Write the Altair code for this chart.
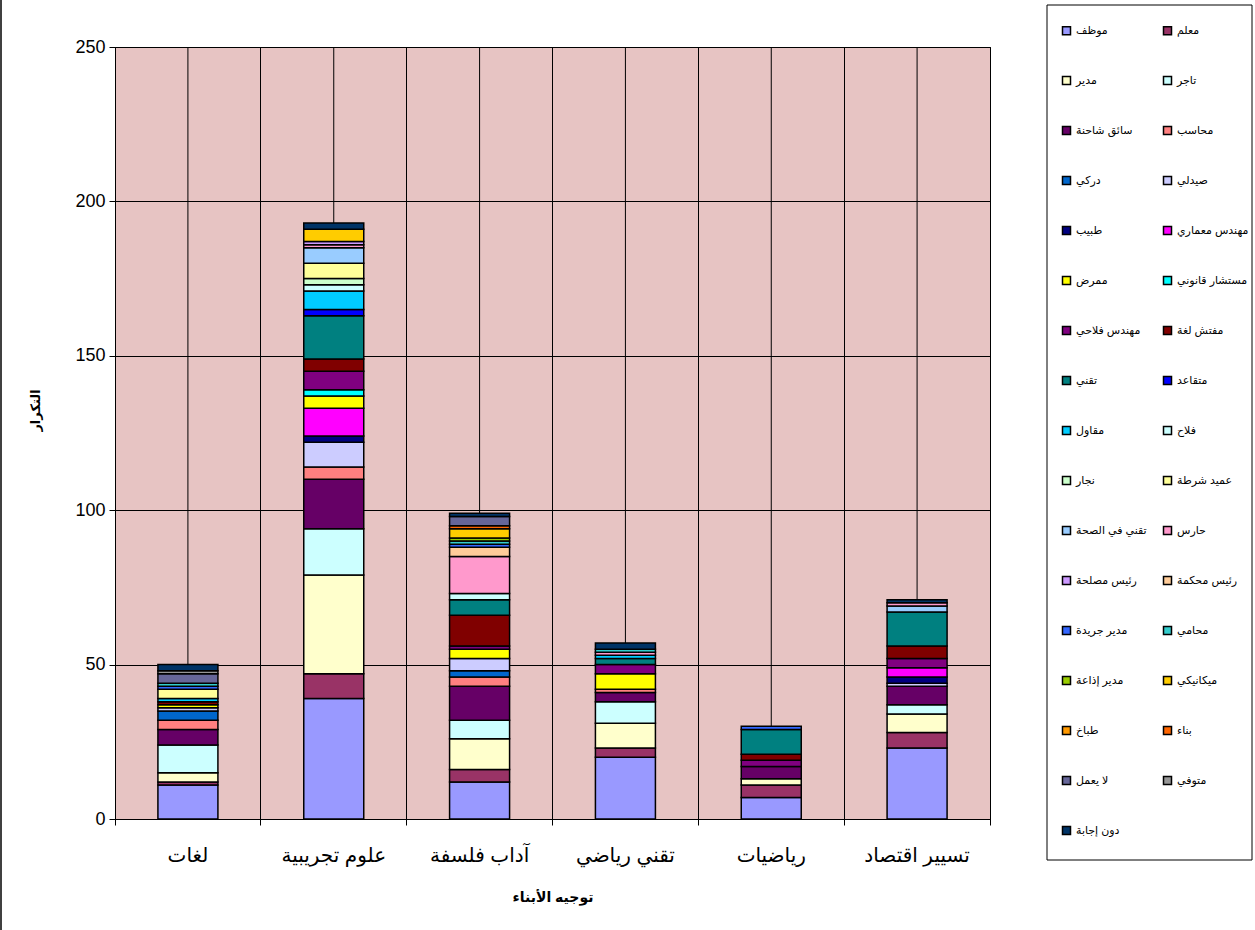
import altair as alt
import pandas as pd

categories = ["لغات", "علوم تجريبية", "آداب فلسفة", "تقني رياضي", "رياضيات", "تسيير اقتصاد"]

series = [
    "موظف", "معلم", "مدير", "تاجر", "سائق شاحنة", "محاسب", "دركي", "صيدلي",
    "طبيب", "مهندس معماري", "ممرض", "مستشار قانوني", "مهندس فلاحي", "مفتش لغة",
    "تقني", "متقاعد", "مقاول", "فلاح", "نجار", "عميد شرطة", "تقني في الصحة",
    "حارس", "رئيس مصلحة", "رئيس محكمة", "مدير جريدة", "محامي", "مدير إذاعة",
    "ميكانيكي", "طباخ", "بناء", "لا يعمل", "متوفي", "دون إجابة",
]

colors = [
    "#9999FF", "#993366", "#FFFFCC", "#CCFFFF", "#660066", "#FF8080", "#0066CC", "#CCCCFF",
    "#000080", "#FF00FF", "#FFFF00", "#00FFFF", "#800080", "#800000", "#008080", "#0000FF",
    "#00CCFF", "#CCFFFF", "#CCFFCC", "#FFFF99", "#99CCFF", "#FF99CC", "#CC99FF", "#FFCC99",
    "#3366FF", "#33CCCC", "#99CC00", "#FFCC00", "#FF9900", "#FF6600", "#666699", "#969696",
    "#003366",
]

# values per category, in the order of `series`
v_lughat = [11, 1, 3, 9, 5, 3, 3, 1, 0, 0, 1, 0, 0, 1, 0, 0, 1, 0, 0, 3, 0, 0, 0, 0, 1, 1, 0, 0, 0, 0, 3, 1, 2]
v_ulum = [39, 8, 32, 15, 16, 4, 0, 8, 2, 9, 4, 2, 6, 4, 14, 2, 6, 2, 2, 5, 5, 1, 1, 0, 0, 0, 0, 4, 0, 0, 0, 0, 2]
v_adab = [12, 4, 10, 6, 11, 3, 2, 4, 0, 0, 3, 0, 1, 10, 5, 0, 0, 2, 0, 0, 0, 12, 0, 3, 1, 1, 1, 3, 0, 1, 3, 0, 1]
v_tech_math = [20, 3, 8, 7, 3, 1, 0, 0, 0, 0, 5, 0, 3, 0, 2, 0, 1, 0, 0, 0, 0, 1, 0, 0, 0, 1, 0, 0, 0, 0, 0, 0, 2]
v_math = [7, 4, 2, 0, 4, 0, 0, 0, 0, 0, 0, 0, 2, 2, 8, 0, 0, 0, 0, 0, 0, 0, 0, 0, 1, 0, 0, 0, 0, 0, 0, 0, 0]
v_eco = [23, 5, 6, 3, 6, 0, 0, 1, 2, 3, 0, 0, 3, 4, 11, 0, 0, 0, 0, 0, 2, 1, 0, 0, 0, 0, 0, 0, 0, 0, 0, 0, 1]

y_ticks = [0, 50, 100, 150, 200, 250]

all_values = [v_lughat, v_ulum, v_adab, v_tech_math, v_math, v_eco]
rows = []
for cat, vals in zip(categories, all_values):
    for i, (s, v) in enumerate(zip(series, vals)):
        if v > 0:
            rows.append({"category": cat, "series": s, "idx": i, "value": v})
df = pd.DataFrame(rows)
cat_df = pd.DataFrame({"category": categories})

# legend is filled column by column: put the left column (even entries) first
legend_domain = series[0::2] + series[1::2]
legend_range = colors[0::2] + colors[1::2]

W, H = 875, 772
FONT = "Liberation Sans, DejaVu Sans, sans-serif"

xscale = alt.Scale(domain=categories, paddingInner=0, paddingOuter=0)
xaxis = alt.Axis(
    title="توجيه الأبناء",
    labelAngle=0,
    bandPosition=1,
    tickExtra=True,
    grid=True,
    gridColor="black",
    gridOpacity=1,
    gridWidth=1,
    tickColor="black",
    tickSize=6,
    domainColor="black",
    labelFontSize=20,
    labelColor="black",
    labelPadding=20,
    labelFont=FONT,
    titleFont=FONT,
    titleFontSize=14,
    titleFontWeight="bold",
    titleColor="black",
    titleY=78,
    titleBaseline="middle",
)

legend_box = alt.Chart(cat_df.head(1)).mark_rect(
    fill="white", stroke="black", strokeWidth=1
).encode(
    x=alt.value(932), x2=alt.value(1137), y=alt.value(-42), y2=alt.value(813)
)

frame_line = alt.Chart(cat_df.head(1)).mark_rule(color="black", strokeWidth=1.5).encode(
    x=alt.value(-114), y=alt.value(-47), y2=alt.value(H + 111)
)

center_rules = alt.Chart(cat_df).mark_rule(color="black", strokeWidth=1).encode(
    x=alt.X("category:N", scale=xscale, sort=categories, axis=xaxis)
)

bars = alt.Chart(df).mark_bar(width=60, stroke="black", strokeWidth=1.5).encode(
    x=alt.X("category:N", scale=xscale, sort=categories, axis=xaxis),
    y=alt.Y(
        "value:Q",
        stack="zero",
        scale=alt.Scale(domain=[0, 250], nice=False),
        axis=alt.Axis(
            title="التكرار",
            values=y_ticks,
            grid=True,
            gridColor="black",
            gridOpacity=1,
            gridWidth=1,
            tickColor="black",
            tickSize=6,
            domainColor="black",
            labelFontSize=18,
            labelColor="black",
            labelPadding=4,
            labelFont=FONT,
            titleFont=FONT,
            titleFontSize=13,
            titleFontWeight="bold",
            titleColor="black",
            titleX=-80,
            titleY=363,
            titleAlign="center",
            titleBaseline="middle",
        ),
    ),
    color=alt.Color(
        "series:N",
        scale=alt.Scale(domain=legend_domain, range=legend_range),
        legend=alt.Legend(
            title=None,
            orient="none",
            legendX=946,
            legendY=-22,
            columns=2,
            symbolLimit=0,
            symbolType="square",
            symbolSize=64,
            symbolStrokeColor="black",
            symbolStrokeWidth=1.5,
            symbolOpacity=1,
            labelFontSize=11,
            labelFont=FONT,
            labelColor="black",
            labelLimit=200,
            rowPadding=35,
            columnPadding=13,
            padding=0,
        ),
    ),
    order=alt.Order("idx:Q", sort="ascending"),
)

chart = alt.layer(legend_box, frame_line, center_rules, bars).properties(
    width=W,
    height=H,
    autosize=alt.AutoSizeParams(type="none"),
    padding={"left": 115, "top": 47, "right": 265, "bottom": 111},
    background="white",
).configure_view(
    fill="#E7C4C3", stroke="black", strokeWidth=1
)

chart.save("out.html", embed_options={"renderer": "svg", "actions": False})
